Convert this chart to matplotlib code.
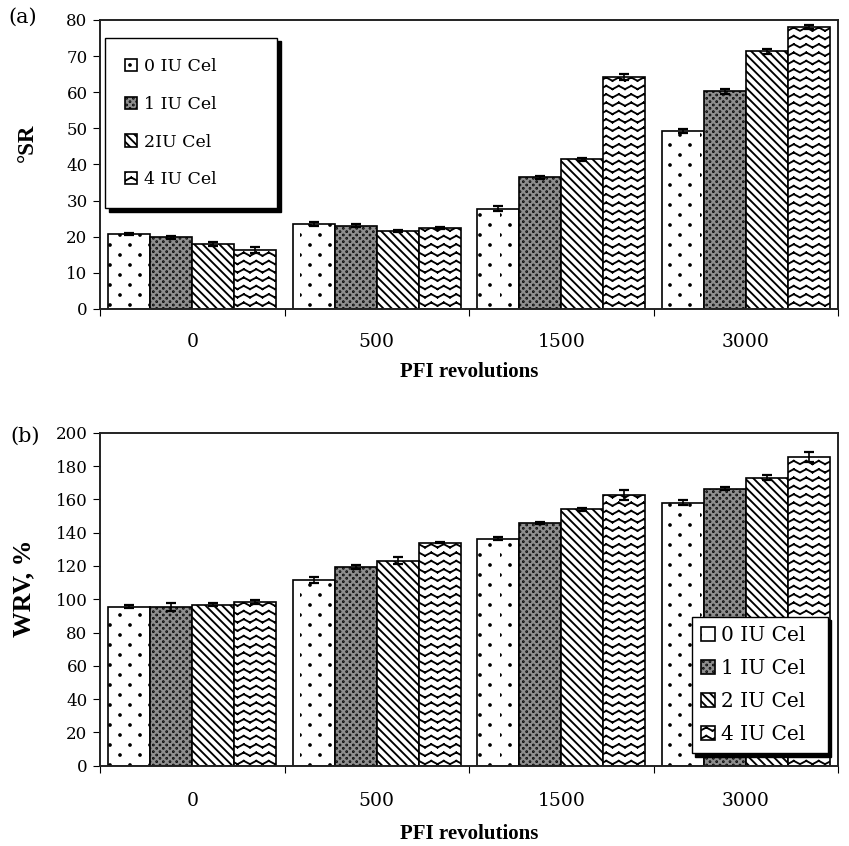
import numpy as np
import matplotlib
matplotlib.use("Agg")
import matplotlib.pyplot as plt
import matplotlib.hatch as mhatch
from matplotlib.path import Path

# ── Data ────────────────────────────────────────────────────────────────────
revolutions = ["0", "500", "1500", "3000"]
doses_a = ["0 IU Cel", "1 IU Cel", "2IU Cel", "4 IU Cel"]
doses_b = ["0 IU Cel", "1 IU Cel", "2 IU Cel", "4 IU Cel"]

# (a) drainability, °SR  (rows = dose, columns = PFI revolutions)
sr = [[20.8, 23.6, 27.8, 49.2],
      [19.8, 23.1, 36.4, 60.2],
      [18.0, 21.6, 41.4, 71.3],
      [16.3, 22.5, 64.3, 78.0]]
sr_err = [[0.3, 0.5, 0.8, 0.5],
          [0.3, 0.3, 0.4, 0.6],
          [0.6, 0.3, 0.4, 0.8],
          [0.8, 0.3, 0.8, 0.5]]

# (b) water retention value, %
wrv = [[95.5, 111.5, 136.3, 158.0],
       [95.5, 119.3, 145.6, 166.5],
       [96.8, 123.1, 154.0, 173.0],
       [98.5, 134.0, 162.5, 185.3]]
wrv_err = [[1.0, 2.0, 0.8, 1.5],
           [2.5, 1.0, 0.5, 1.0],
           [1.0, 2.0, 1.0, 1.5],
           [1.2, 0.5, 3.0, 3.0]]


# ── Custom hatches: staggered dots ('.') and zigzag rows ('O') ──────────────
class DotHatch(mhatch.HatchPatternBase):
    def __init__(self, hatch, density):
        k = hatch.count(".")
        self.k = max(k, 1)
        self.cols, self.rows = 5 * k, 10 * k
        circ = Path.unit_circle()
        self.sv, self.sc = circ.vertices, circ.codes
        self.num_vertices = self.cols * self.rows * len(self.sv)

    def set_vertices_and_codes(self, vertices, codes):
        n = len(self.sv)
        rad = 0.009 if self.k == 1 else 0.004
        i = 0
        for r in range(self.rows):
            for c in range(self.cols):
                cx = (c + 0.5 * (r % 2)) / self.cols
                cy = (r + 0.5) / self.rows
                vertices[i * n:(i + 1) * n] = self.sv * rad + (cx, cy)
                codes[i * n:(i + 1) * n] = self.sc
                i += 1


class ZigZagHatch(mhatch.HatchPatternBase):
    teeth = 8

    def __init__(self, hatch, density):
        self.num_rows = int(hatch.count("O") * density)
        self.num_vertices = self.num_rows * self.teeth * 4

    def set_vertices_and_codes(self, vertices, codes):
        n = 2 * self.teeth
        xs = np.linspace(0, 1, n + 1)
        amp = 0.2 / self.num_rows
        dy = np.where(np.arange(n + 1) % 2 == 0, -amp, amp)
        i = 0
        for r in range(self.num_rows):
            y = (r + 0.5) / self.num_rows + dy
            for s in range(n):  # separate segments, so nothing gets filled
                vertices[i] = (xs[s], y[s])
                vertices[i + 1] = (xs[s + 1], y[s + 1])
                codes[i] = Path.MOVETO
                codes[i + 1] = Path.LINETO
                i += 2


swap = {mhatch.SmallFilledCircles: DotHatch, mhatch.LargeCircles: ZigZagHatch}
mhatch._hatch_types = [swap.get(t, t) for t in mhatch._hatch_types]

# ── Style ───────────────────────────────────────────────────────────────────
SERIF = ["Liberation Serif", "DejaVu Serif"]
TICKF = ["DejaVu Serif"]
plt.rcParams["font.family"] = TICKF
plt.rcParams["hatch.linewidth"] = 1.35
plt.rcParams["axes.linewidth"] = 1.4
plt.rcParams["axes.edgecolor"] = "#222222"

FACES = ["white", "#8e8e8e", "white", "white"]
HATCHES = [".", "...", "\\\\\\\\", "OO"]
W = 0.228


def draw_panel(ax, vals, errs, labels, ylim, yticks, xpad, lpad):
    x = np.arange(len(revolutions))
    for i, (v, e) in enumerate(zip(vals, errs)):
        ax.bar(x + (i - 1.5) * W, v, W, yerr=e, color=FACES[i],
               edgecolor="black", linewidth=1.2, hatch=HATCHES[i],
               label=labels[i], zorder=2,
               error_kw=dict(ecolor="black", elinewidth=1.2,
                             capsize=3.5, capthick=1.6))
    ax.set_xlim(-0.5, len(revolutions) - 0.5)
    ax.set_ylim(*ylim)
    ax.set_yticks(yticks)
    ax.set_xticks(np.arange(len(revolutions) + 1) - 0.5)
    ax.set_xticklabels([])
    ax.set_xticks(x, minor=True)
    ax.set_xticklabels(revolutions, minor=True)
    ax.tick_params(axis="x", which="major", direction="out", length=5)
    ax.tick_params(axis="x", which="minor", length=0, pad=xpad,
                   labelsize=13.5)
    ax.tick_params(axis="y", direction="out", length=5, labelsize=12,
                   pad=4)
    ax.set_xlabel("PFI revolutions", fontsize=15, fontweight="bold",
                  family=SERIF, labelpad=lpad)


fig = plt.figure(figsize=(8.49, 8.46), dpi=100)
ax1 = fig.add_axes([0.1178, 0.6348, 0.8693, 0.3416])
ax2 = fig.add_axes([0.1178, 0.0949, 0.8693, 0.3936])

draw_panel(ax1, sr, sr_err, doses_a, (0, 80), range(0, 81, 10), 17, 8)
draw_panel(ax2, wrv, wrv_err, doses_b, (0, 200), range(0, 201, 20), 19, 10)

ax1.set_ylabel("°SR", fontsize=16.5, fontweight="bold", family=SERIF)
ax1.yaxis.set_label_coords(-0.084, 0.574)
ax2.set_ylabel("WRV, %", fontsize=18.5, fontweight="bold", family=SERIF)
ax2.yaxis.set_label_coords(-0.088, 0.534)

shadow = {"ox": 2.5, "oy": -2.5, "facecolor": "black",
          "edgecolor": "black", "alpha": 1}
ax1.legend(loc="upper left", bbox_to_anchor=(0.007, 0.0, 0.233, 0.938),
           mode="expand", borderaxespad=0,
           fontsize=12.5, fancybox=False, framealpha=1, edgecolor="black",
           shadow=shadow, handlelength=0.7, handleheight=0.7,
           handletextpad=0.4, labelspacing=1.2, borderpad=1.15)
ax2.legend(loc="lower right", bbox_to_anchor=(0.802, 0.038, 0.184, 0.5),
           mode="expand", borderaxespad=0,
           fontsize=14.5, fancybox=False, framealpha=1, edgecolor="black",
           shadow=shadow, handlelength=0.7, handleheight=0.7,
           handletextpad=0.3, labelspacing=0.7, borderpad=0.45)

fig.text(0.0094, 0.98, "(a)", fontsize=15, va="center", ha="left")
fig.text(0.012, 0.4846, "(b)", fontsize=15, va="center", ha="left")

fig.savefig("out.png", dpi=100, facecolor="white")
